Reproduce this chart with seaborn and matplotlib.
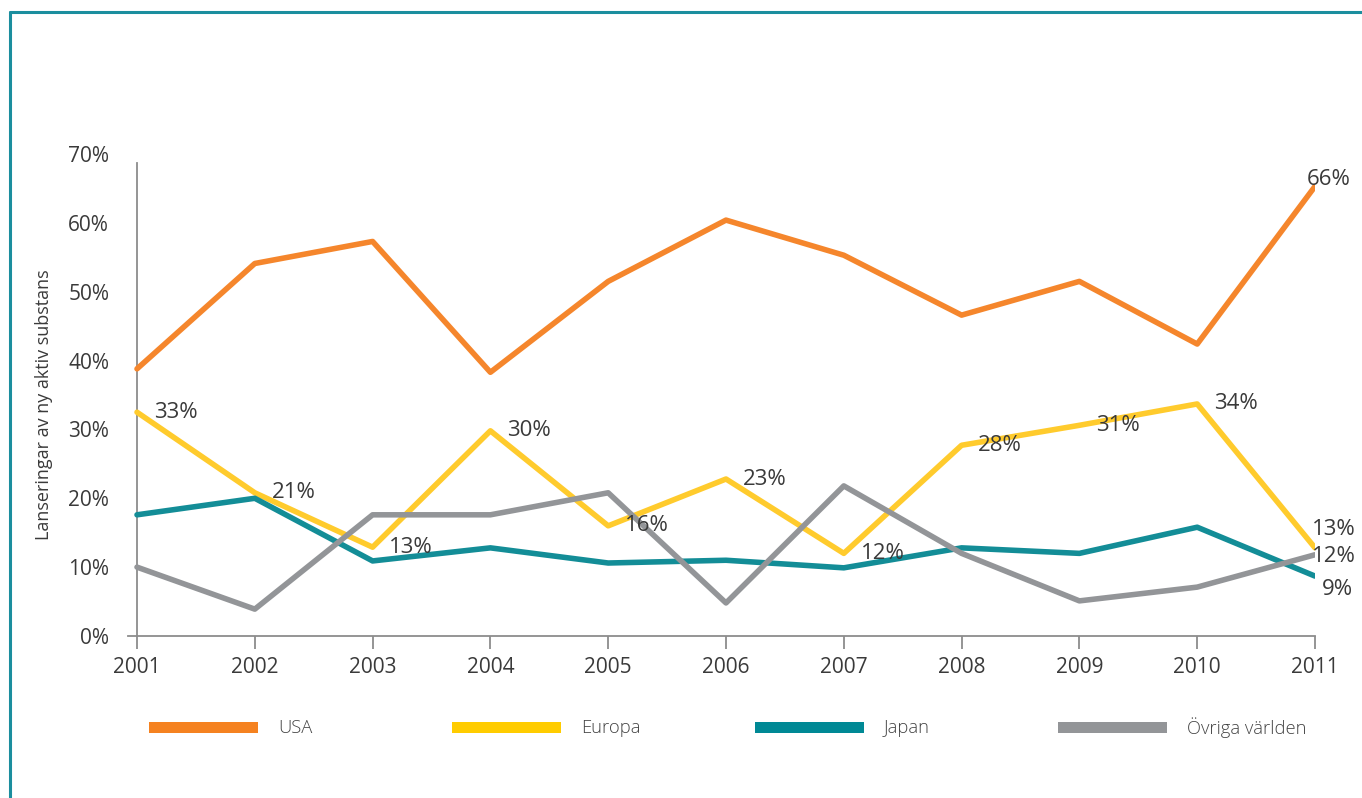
import matplotlib
matplotlib.use("Agg")
import matplotlib.pyplot as plt
from matplotlib.lines import Line2D
from matplotlib.patches import Rectangle
import seaborn as sns
import pandas as pd

years = [2001, 2002, 2003, 2004, 2005, 2006, 2007, 2008, 2009, 2010, 2011]
usa = [38.8, 54.1, 57.3, 38.3, 51.5, 60.4, 55.3, 46.6, 51.5, 42.4, 65.3]
europa = [32.5, 20.8, 12.9, 29.8, 16.0, 22.8, 12.0, 27.7, 30.6, 33.7, 12.8]
japan = [17.6, 20.0, 10.9, 12.8, 10.6, 11.0, 9.9, 12.8, 12.0, 15.8, 8.7]
ovriga = [10.0, 3.9, 17.6, 17.6, 20.8, 4.8, 21.8, 12.0, 5.1, 7.1, 11.8]

series = ["USA", "Europa", "Japan", "Övriga världen"]
colors = {"USA": "#F5862C", "Europa": "#FFCB2D", "Japan": "#138D97", "Övriga världen": "#939598"}
legend_colors = {"USA": "#F58220", "Europa": "#FFCC00", "Japan": "#008995", "Övriga världen": "#939598"}

europa_labels = ["33%", "21%", "13%", "30%", "16%", "23%", "12%", "28%", "31%", "34%"]
end_labels = [("USA", "66%"), ("Europa", "13%"), ("Övriga världen", "12%"), ("Japan", "9%")]

df = pd.DataFrame({
    "year": years * 4,
    "value": [v / 100 for v in usa + europa + japan + ovriga],
    "region": sum([[s] * len(years) for s in series], []),
})

sns.set_theme(style="white")
plt.rcParams["font.family"] = ["Open Sans", "DejaVu Sans"]

fig = plt.figure(figsize=(13.62, 7.98), dpi=100)
ax = fig.add_axes([128 / 1362, 162 / 798, (1315 - 128) / 1362, 482 / 798])

sns.lineplot(data=df, x="year", y="value", hue="region", hue_order=series,
             palette=colors, linewidth=4, legend=False, ax=ax, zorder=3)

ax.set_xlim(2001 - 9 / 117.8, 2011)
ax.set_ylim(0, 0.7)
ax.set_xticks(years)
ax.set_yticks([i / 10 for i in range(8)])
ax.set_yticklabels([f"{i * 10}%" for i in range(8)])

for s in ["top", "right"]:
    ax.spines[s].set_visible(False)
ax.spines["left"].set_position(("data", 2001))
ax.spines["left"].set_bounds(0, 0.687)
for s in ["left", "bottom"]:
    ax.spines[s].set_color("#8c8c8c")
    ax.spines[s].set_linewidth(1.3)
ax.tick_params(axis="x", direction="out", length=9, width=1.3, color="#8c8c8c",
               labelsize=15, labelcolor="#3a3a3a", pad=6, bottom=True)
ax.tick_params(axis="y", length=0, labelsize=15, labelcolor="#3a3a3a", pad=20)
ax.set_xlabel("")
ax.set_ylabel("Lanseringar av ny aktiv substans", fontsize=13, color="#3a3a3a")
ax.yaxis.set_label_coords(-0.063, 0.48)

# labels on the Europa line
for yr, val, lab in zip(years, europa, europa_labels):
    ax.annotate(lab, (yr, val / 100), xytext=(12, 0), textcoords="offset points",
                ha="left", va="center", fontsize=16, color="#3a3a3a", zorder=5)

end_offsets = {"USA": (10, 5), "Europa": (-2, 13), "Övriga världen": (-2, -1), "Japan": (5, -10)}
end_values = {"USA": usa[-1], "Europa": europa[-1], "Japan": japan[-1], "Övriga världen": ovriga[-1]}
for reg, lab in end_labels:
    ax.annotate(lab, (years[-1], end_values[reg] / 100), xytext=end_offsets[reg],
                textcoords="offset points", ha="left" if reg != "USA" else "center",
                va="center", fontsize=16, color="#3a3a3a", annotation_clip=False, zorder=5)

# legend row
for i, reg in enumerate(series):
    x0 = (149 + i * 303) / 1362
    fig.add_artist(Rectangle((x0, (798 - 733) / 798), 109 / 1362, 11 / 798,
                             transform=fig.transFigure, color=legend_colors[reg], lw=0))
    fig.text(x0 + 129 / 1362, (798 - 728) / 798, reg, fontsize=13.2, color="#444444",
             ha="left", va="center", fontweight="light")

# teal frame (left and top)
fig.add_artist(Line2D([10 / 1362, 10 / 1362], [0, 1 - 12 / 798], transform=fig.transFigure,
                      color="#1B8E9E", lw=2.2))
fig.add_artist(Line2D([10 / 1362, 1], [1 - 12 / 798, 1 - 12 / 798], transform=fig.transFigure,
                      color="#1B8E9E", lw=2.2))

fig.savefig("out.png", dpi=100)
